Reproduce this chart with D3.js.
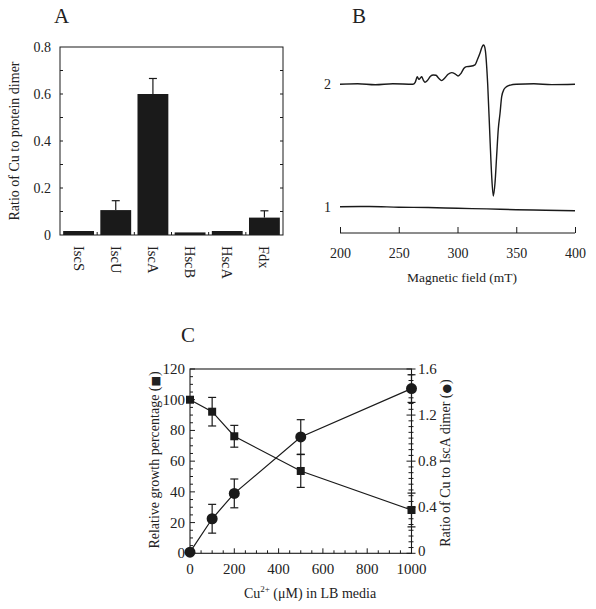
<!DOCTYPE html>
<html><head><meta charset="utf-8">
<script src="https://cdn.jsdelivr.net/npm/d3@7"></script>
<style>body{margin:0;background:#fff}svg{display:block}text{font-family:"Liberation Serif","Times New Roman",serif;fill:#222}</style>
</head><body>
<svg id="c" width="596" height="609"></svg>
<script>
// Panel A data
const catsA = ["IscS","IscU","IscA","HscB","HscA","Fdx"];
const valsA = [0.017,0.106,0.600,0.011,0.017,0.074];
const errA  = [0,0.040,0.066,0,0,0.029];
const ticksA = [0,0.2,0.4,0.6,0.8];

// Panel B data (EPR spectra, arbitrary units)
const field2 = [200,215,230,245,262,264,265.8,267,268.2,269.5,271,272.3,274.5,277,279.4,281.7,284,286.5,289,292,295,297.9,300.5,303,305.5,307.8,311,314.9,316.8,319.1,320.8,322,322.9,323.8,325.7,327.7,329.1,330.5,331.9,333.3,334.7,336.2,337.6,339.6,341.8,345,350,365,380,400];
const sig2   = [0,0.5,-0.5,0.5,0,2,7.5,5,6,7.5,4,2,4,8,9.3,9,6,3.7,6,10,11.7,10.5,8.3,11,16,17.7,18,19.5,24.3,31,37,39.3,38.3,33,0,-55.7,-92,-111.7,-99,-72,-45,-29,-12.3,-5,-2.3,-0.8,0,0.5,-0.3,0];
const field1 = [200,225,250,275,300,325,350,375,400];
const sig1   = [0,0.2,-0.5,-0.8,-1.6,-2.2,-3,-3.5,-4];
const offset1 = -122.4;
const ticksB = [200,250,300,350,400];

// Panel C data
const cuConc = [0,100,200,500,1000];
const growth = [100,92.2,76.2,53.6,28.2];
const growthErr = [0,9.3,7.1,10.7,11];
const cuRatio = [0.01,0.30,0.52,1.01,1.43];
const cuRatioErr = [0,0.125,0.125,0.15,0.12];
const ticksCx = [0,200,400,600,800,1000];
const ticksCl = [0,20,40,60,80,100,120];
const ticksCr = [0,0.4,0.8,1.2,1.6];

const svg = d3.select("#c");
const ink = "#1a1a1a";

// ---------- Panel A ----------
{
  const L=60,R=283,T=47,B=235;
  const x = d3.scaleBand().domain(catsA).range([L,R]).paddingInner(0.17).paddingOuter(0.085);
  const y = d3.scaleLinear().domain([0,0.8]).range([B,T]);
  const g = svg.append("g");
  g.append("text").attr("x",54).attr("y",23).attr("font-size",21).text("A");
  g.selectAll("rect.bar").data(valsA).join("rect")
    .attr("x",(d,i)=>x(catsA[i])).attr("width",x.bandwidth())
    .attr("y",d=>y(d)).attr("height",d=>B-y(d)).attr("fill",ink);
  catsA.forEach((c,i)=>{
    if(!errA[i]) return;
    const cx = x(c)+x.bandwidth()/2;
    g.append("line").attr("x1",cx).attr("x2",cx).attr("y1",y(valsA[i])).attr("y2",y(valsA[i]+errA[i])).attr("stroke",ink).attr("stroke-width",1.2);
    g.append("line").attr("x1",cx-4).attr("x2",cx+4).attr("y1",y(valsA[i]+errA[i])).attr("y2",y(valsA[i]+errA[i])).attr("stroke",ink).attr("stroke-width",1.2);
  });
  g.append("rect").attr("x",L).attr("y",T).attr("width",R-L).attr("height",B-T).attr("fill","none").attr("stroke",ink).attr("stroke-width",1);
  const minor = d3.range(0.1,0.8,0.1);
  g.selectAll("line.tl").data(minor).join("line").attr("x1",L).attr("x2",L+3).attr("y1",d=>y(d)).attr("y2",d=>y(d)).attr("stroke",ink);
  g.selectAll("line.tr").data(minor).join("line").attr("x1",R).attr("x2",R-3).attr("y1",d=>y(d)).attr("y2",d=>y(d)).attr("stroke",ink);
  catsA.slice(1).forEach(c=>{
    const bx = x(c)-x.step()*x.paddingInner()/2;
    g.append("line").attr("x1",bx).attr("x2",bx).attr("y1",B).attr("y2",B-3).attr("stroke",ink);
  });
  g.selectAll("text.yt").data(ticksA).join("text").attr("x",51).attr("y",d=>y(d)+5).attr("text-anchor","end").attr("font-size",14).text(d=>d===0?"0":d.toFixed(1));
  g.selectAll("text.xc").data(catsA).join("text")
    .attr("transform",d=>`translate(${x(d)+x.bandwidth()/2-5},246) rotate(90)`)
    .attr("font-size",14.5).text(d=>d);
  g.append("text").attr("transform","translate(19,141) rotate(-90)").attr("text-anchor","middle").attr("font-size",14).text("Ratio of Cu to protein dimer");
}

// ---------- Panel B ----------
{
  const x = d3.scaleLinear().domain([200,400]).range([340,575]);
  const y = d3.scaleLinear().domain([-130,40]).range([84.3+130,84.3-40]);
  const g = svg.append("g");
  g.append("text").attr("x",352).attr("y",23).attr("font-size",21).text("B");
  const line = d3.line().x(d=>x(d[0])).y(d=>y(d[1])).curve(d3.curveMonotoneX);
  g.append("path").attr("d",line(field2.map((f,i)=>[f,sig2[i]]))).attr("fill","none").attr("stroke",ink).attr("stroke-width",1.4);
  g.append("path").attr("d",line(field1.map((f,i)=>[f,sig1[i]+offset1]))).attr("fill","none").attr("stroke",ink).attr("stroke-width",1.4);
  g.append("text").attr("x",331).attr("y",y(0)+5).attr("text-anchor","end").attr("font-size",14).text("2");
  g.append("text").attr("x",331).attr("y",y(offset1)+5).attr("text-anchor","end").attr("font-size",14).text("1");
  const ax = g.append("g").attr("transform","translate(0,233)")
    .call(d3.axisBottom(x).tickValues(ticksB).tickSize(-6).tickPadding(12).tickSizeOuter(0));
  ax.select(".domain").attr("stroke",ink).attr("d","M340,0H575");
  ax.selectAll(".tick line").attr("stroke",ink);
  ax.selectAll(".tick text").attr("font-size",14).attr("font-family","Liberation Serif").attr("fill","#222").attr("dy","0.9em");
  g.append("text").attr("x",462).attr("y",282).attr("text-anchor","middle").attr("font-size",13.5).text("Magnetic field (mT)");
}

// ---------- Panel C ----------
{
  const L=190,R=411.5,T=369,B=553.3;
  const x = d3.scaleLinear().domain([0,1000]).range([L,R]);
  const yl = d3.scaleLinear().domain([0,120]).range([B,T]);
  const yr = d3.scaleLinear().domain([0,1.6]).range([B,T]);
  const g = svg.append("g");
  g.append("text").attr("x",181).attr("y",342).attr("font-size",21).text("C");
  g.append("rect").attr("x",L).attr("y",T).attr("width",R-L).attr("height",B-T).attr("fill","none").attr("stroke",ink).attr("stroke-width",1.1);
  g.selectAll("line.lm").data(d3.range(0,121,5)).join("line").attr("x1",L).attr("x2",d=>L+(d%20===0?5:3)).attr("y1",d=>yl(d)).attr("y2",d=>yl(d)).attr("stroke",ink);
  g.selectAll("line.rm").data(d3.range(0,33).map(i=>i*0.05)).join("line").attr("x1",(d,i)=>R-(i%8===0?5:3)).attr("x2",(d,i)=>R+(i%8===0?4:2)).attr("y1",d=>yr(d)).attr("y2",d=>yr(d)).attr("stroke",ink);
  g.selectAll("line.bm").data(d3.range(0,1001,50)).join("line").attr("x1",d=>x(d)).attr("x2",d=>x(d)).attr("y1",B).attr("y2",d=>B-(d%200===0?5:3)).attr("stroke",ink);
  g.selectAll("text.lt").data(ticksCl).join("text").attr("x",185).attr("y",d=>yl(d)+5).attr("text-anchor","end").attr("font-size",15).text(d=>d);
  g.selectAll("text.rt").data(ticksCr).join("text").attr("x",418).attr("y",d=>yr(d)+(d===0?3:5)).attr("font-size",15).text(d=>d===0?"0":d.toFixed(1));
  g.selectAll("text.bt").data(ticksCx).join("text").attr("x",d=>x(d)).attr("y",574).attr("text-anchor","middle").attr("font-size",15).text(d=>d);
  const t1 = g.append("text").attr("x",310).attr("y",598).attr("text-anchor","middle").attr("font-size",14);
  t1.append("tspan").text("Cu");
  t1.append("tspan").attr("font-size",9).attr("dy",-6).text("2+");
  t1.append("tspan").attr("dy",6).text(" (μM) in LB media");
  const tl = g.append("text").attr("transform","translate(159,460) rotate(-90)").attr("text-anchor","middle").attr("font-size",14);
  tl.append("tspan").text("Relative growth percentage (");
  tl.append("tspan").attr("font-size",11).attr("font-family","DejaVu Sans").text("■");
  tl.append("tspan").text(")");
  const tr = g.append("text").attr("transform","translate(450,463) rotate(-90)").attr("text-anchor","middle").attr("font-size",14);
  tr.append("tspan").text("Ratio of Cu to IscA dimer (");
  tr.append("tspan").attr("font-size",11).attr("font-family","DejaVu Sans").text("●");
  tr.append("tspan").text(")");
  const lg = d3.line().x((d,i)=>x(cuConc[i])).y(d=>yl(d));
  const lr = d3.line().x((d,i)=>x(cuConc[i])).y(d=>yr(d));
  g.append("path").attr("d",lg(growth)).attr("fill","none").attr("stroke",ink).attr("stroke-width",1.2);
  g.append("path").attr("d",lr(cuRatio)).attr("fill","none").attr("stroke",ink).attr("stroke-width",1.2);
  const eb = (cx,y1,y2)=>{
    g.append("line").attr("x1",cx).attr("x2",cx).attr("y1",y1).attr("y2",y2).attr("stroke",ink).attr("stroke-width",1.2);
    [y1,y2].forEach(yy=>g.append("line").attr("x1",cx-4).attr("x2",cx+4).attr("y1",yy).attr("y2",yy).attr("stroke",ink).attr("stroke-width",1.2));
  };
  cuConc.forEach((c,i)=>{
    if(growthErr[i]) eb(x(c),yl(growth[i]-growthErr[i]),yl(growth[i]+growthErr[i]));
    if(cuRatioErr[i]) eb(x(c),yr(cuRatio[i]-cuRatioErr[i]),yr(cuRatio[i]+cuRatioErr[i]));
  });
  g.selectAll("rect.sq").data(growth).join("rect").attr("x",(d,i)=>x(cuConc[i])-4).attr("y",d=>yl(d)-4).attr("width",8).attr("height",8).attr("fill",ink);
  g.selectAll("circle.ci").data(cuRatio).join("circle").attr("cx",(d,i)=>x(cuConc[i])).attr("cy",d=>yr(d)).attr("r",5.5).attr("fill",ink);
}
</script>
</body></html>
